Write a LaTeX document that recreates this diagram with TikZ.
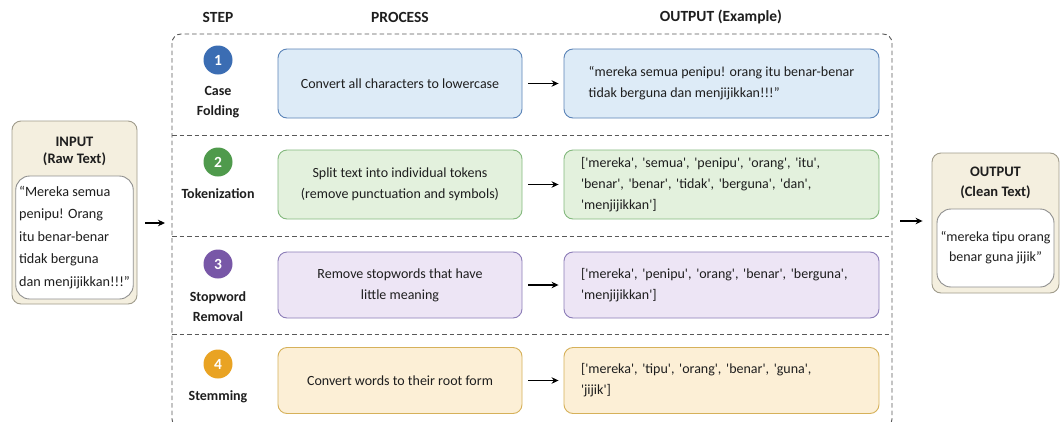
\documentclass[tikz,border=0pt]{standalone}
\usepackage{fontspec}
\setmainfont{Carlito}[Ligatures=TeXOff]
\usetikzlibrary{arrows.meta}
\definecolor{bfill}{HTML}{DDEBF7}\definecolor{bline}{HTML}{5B84B8}\definecolor{bdot}{HTML}{3B6DB3}
\definecolor{gfill}{HTML}{E3F1DD}\definecolor{gline}{HTML}{84B97E}\definecolor{gdot}{HTML}{4F9A4C}
\definecolor{pfill}{HTML}{EDE5F5}\definecolor{pline}{HTML}{8C7DB8}\definecolor{pdot}{HTML}{7857A7}
\definecolor{ofill}{HTML}{FCEFD6}\definecolor{oline}{HTML}{D6B15A}\definecolor{odot}{HTML}{E9A323}
\definecolor{beige}{HTML}{F4EFDF}\definecolor{beigeline}{HTML}{A09C8C}
\definecolor{innerline}{HTML}{8F8F8F}\definecolor{txt}{HTML}{1E1E1E}
\begin{document}
\begin{tikzpicture}[x=1pt,y=-1pt,
  every node/.style={text=txt},
  hdr/.style={font=\bfseries\fontsize{15.5}{18}\selectfont},
  framestyle/.style={draw=black!65, dash pattern=on 4.5pt off 3pt, line width=0.9pt},
  procbox/.style={draw, rounded corners=9pt, minimum width=244pt, minimum height=69pt, align=center, line width=0.9pt, font=\fontsize{14}{21}\selectfont},
  outbox/.style={draw, rounded corners=9pt, minimum width=315pt, minimum height=69pt, align=left, line width=0.9pt, font=\fontsize{14}{21}\selectfont},
  outlist/.style={outbox, text width=281pt},
  stepnum/.style={circle, minimum size=29pt, inner sep=0pt, text=white, font=\bfseries\fontsize{15.5}{15}\selectfont},
  steplabel/.style={align=center, font=\bfseries\fontsize{14}{20}\selectfont},
  sidebox/.style={draw=beigeline, fill=beige, rounded corners=9pt, line width=0.9pt},
  innerbox/.style={draw=innerline, fill=white, rounded corners=14pt, line width=0.9pt, align=left},
  flow/.style={-{Stealth[length=7pt,width=6.5pt]}, line width=1.1pt, draw=black},
]
\useasboundingbox (0,0) rectangle (1061,421);
\clip (0,0) rectangle (1061,421);
\fill[white] (0,0) rectangle (1061,421);

% headers
\node[hdr] (hstep) at (218,17) {STEP};
\node[hdr] (hproc) at (400,17) {PROCESS};
\node[hdr] (hout) at (721,17) {OUTPUT (Example)};

% frame and separators
\draw[framestyle, rounded corners=9pt] (172,34) rectangle (892,428);
\coordinate (fl) at (172,223);
\coordinate (fr) at (892,221);
\coordinate (s1l) at (172,135); \coordinate (s1r) at (892,135);
\coordinate (s2l) at (172,236); \coordinate (s2r) at (892,236);
\coordinate (s3l) at (172,334); \coordinate (s3r) at (892,334);
\draw[framestyle] (s1l) -- (s1r);
\draw[framestyle] (s2l) -- (s2r);
\draw[framestyle] (s3l) -- (s3r);

% row 1
\node[stepnum, fill=bdot] (c1) at (218,60) {1};
\node[steplabel] (l1) at (218,102) {Case\\Folding};
\node[procbox, draw=bline, fill=bfill] (p1) at (400,83.5) {Convert all characters to lowercase};
\node[outbox, draw=bline, fill=bfill] (o1) at (721.5,83.5) {“mereka semua penipu! orang itu benar-benar\\tidak berguna dan menjijikkan!!!”};
\draw[flow] ([xshift=6pt]p1.east) -- ([xshift=-5pt]o1.west);

% row 2
\node[stepnum, fill=gdot] (c2) at (218,162) {2};
\node[steplabel] (l2) at (218,194) {Tokenization};
\node[procbox, draw=gline, fill=gfill] (p2) at (400,184.5) {Split text into individual tokens\\(remove punctuation and symbols)};
\node[outlist, draw=gline, fill=gfill] (o2) at (721.5,184.5) {['mereka', 'semua', 'penipu', 'orang', 'itu',\\'benar', 'benar', 'tidak', 'berguna', 'dan',\\'menjijikkan']};
\draw[flow] ([xshift=6pt]p2.east) -- ([xshift=-5pt]o2.west);

% row 3
\node[stepnum, fill=pdot] (c3) at (218,264) {3};
\node[steplabel] (l3) at (218,307) {Stopword\\Removal};
\node[procbox, draw=pline, fill=pfill, minimum height=66pt] (p3) at (400,285) {Remove stopwords that have\\little meaning};
\node[outlist, draw=pline, fill=pfill, minimum height=66pt] (o3) at (721.5,285) {['mereka', 'penipu', 'orang', 'benar', 'berguna',\\'menjijikkan']};
\draw[flow] ([xshift=6pt]p3.east) -- ([xshift=-5pt]o3.west);

% row 4
\node[stepnum, fill=odot] (c4) at (218,364) {4};
\node[steplabel] (l4) at (218,397) {Stemming};
\node[procbox, draw=oline, fill=ofill, minimum height=66pt] (p4) at (400,380.5) {Convert words to their root form};
\node[outlist, draw=oline, fill=ofill, minimum height=66pt] (o4) at (721.5,380.5) {['mereka', 'tipu', 'orang', 'benar', 'guna',\\'jijik']};
\draw[flow] ([xshift=6pt]p4.east) -- ([xshift=-5pt]o4.west);

% input
\node[sidebox, minimum width=125pt, minimum height=183pt] (inp) at (74.5,212.5) {};
\node[font=\bfseries\fontsize{14.5}{17}\selectfont, align=center] (inpt) at (74.5,151) {INPUT\\(Raw Text)};
\node[innerbox, minimum width=117pt, minimum height=123pt, font=\fontsize{14.2}{22.5}\selectfont] (inpx) at (74.5,237.5) {“Mereka semua\\penipu! Orang\\itu benar-benar\\tidak berguna\\dan menjijikkan!!!”};
\draw[flow] ([xshift=8pt]inp.east |- fl) -- ([xshift=-7pt]fl);

% output
\node[sidebox, minimum width=127pt, minimum height=140pt] (outp) at (995.5,223) {};
\node[font=\bfseries\fontsize{14.5}{20}\selectfont, align=center] (outt) at (995.5,182.5) {OUTPUT\\(Clean Text)};
\node[innerbox, minimum width=117pt, minimum height=78pt, align=center, font=\fontsize{14}{20}\selectfont] (outx) at (995.5,248) {“mereka tipu orang\\benar guna jijik”};
\draw[flow] ([xshift=8pt]fr) -- ([xshift=-9pt]outp.west |- fr);
\end{tikzpicture}
\end{document}
